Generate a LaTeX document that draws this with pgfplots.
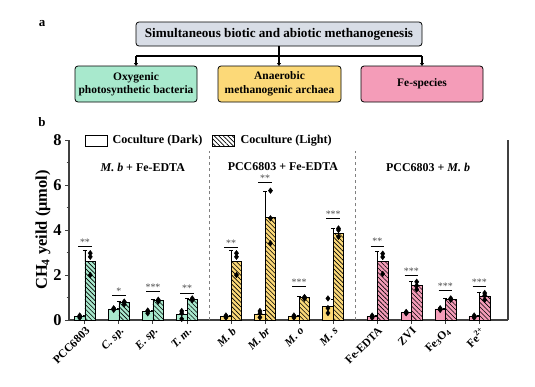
\documentclass[border=0pt]{standalone}
\usepackage{pgfplots}
\pgfplotsset{compat=1.18}
\usepackage{pgfplotstable}
\usepackage{fontspec}
\setmainfont{Liberation Serif}
\usetikzlibrary{patterns.meta,arrows.meta}
\definecolor{cgreen}{HTML}{A8E9CD}
\definecolor{cyellow}{HTML}{FCD978}
\definecolor{cpink}{HTML}{F49CB8}
\definecolor{cgray}{HTML}{D8DDE6}
\definecolor{axgray}{HTML}{404040}

\pgfplotstableread{
x y e
0 0.15 0.05
1 0.49 0.04
2 0.37 0.06
3 0.25 0.18
}\gD
\pgfplotstableread{
x y e
0 2.59 0.52
1 0.77 0.06
2 0.86 0.04
3 0.92 0.04
}\gL
\pgfplotstableread{
x y e
4.3 0.15 0.05
5.3 0.27 0.15
6.3 0.15 0.05
7.3 0.60 0.33
}\yD
\pgfplotstableread{
x y e
4.3 2.59 0.52
5.3 4.56 1.17
6.3 0.99 0.04
7.3 3.85 0.20
}\yL
\pgfplotstableread{
x y e
8.6 0.15 0.05
9.6 0.33 0.03
10.6 0.49 0.04
11.6 0.15 0.05
}\pD
\pgfplotstableread{
x y e
8.6 2.59 0.48
9.6 1.53 0.17
10.6 0.93 0.03
11.6 1.07 0.15
}\pL
\pgfplotstableread{
x y
0 0.10
0 0.15
0 0.20
1 0.45
1 0.50
1 0.52
2 0.30
2 0.38
2 0.42
3 0.05
3 0.30
3 0.40
4.3 0.10
4.3 0.15
4.3 0.20
5.3 0.12
5.3 0.30
5.3 0.40
6.3 0.10
6.3 0.15
6.3 0.20
7.3 0.31
7.3 0.53
7.3 0.96
8.6 0.10
8.6 0.15
8.6 0.20
9.6 0.30
9.6 0.33
9.6 0.36
10.6 0.45
10.6 0.50
10.6 0.52
11.6 0.10
11.6 0.15
11.6 0.20
}\ptsD
\pgfplotstableread{
x y
0 2.00
0 2.81
0 2.97
1 0.70
1 0.78
1 0.82
2 0.82
2 0.86
2 0.90
3 0.88
3 0.92
3 0.96
4.3 2.00
4.3 2.81
4.3 2.97
5.3 3.41
5.3 4.52
5.3 5.75
6.3 0.95
6.3 1.00
6.3 1.02
7.3 3.70
7.3 4.00
7.3 4.07
8.6 2.05
8.6 2.80
8.6 2.95
9.6 1.36
9.6 1.53
9.6 1.70
10.6 0.90
10.6 0.93
10.6 0.96
11.6 0.90
11.6 1.10
11.6 1.20
}\ptsL

\tikzset{hatch/.style={postaction={pattern={Lines[angle=-45,distance=3.2pt,line width=0.6pt]},pattern color=black}}}

\begin{document}
\begin{tikzpicture}[x=1bp,y=1bp]
\useasboundingbox (0,0) rectangle (535,-386);
% panel a
\node[font=\bfseries\fontsize{13}{15}\selectfont] at (42,-24) {a};
\draw[line width=0.8pt, fill=cgray, rounded corners=3bp] (136,-22) rectangle (422,-46);
\node[font=\bfseries\fontsize{13.2}{15}\selectfont] at (279,-34) {Simultaneous biotic and abiotic methanogenesis};
\draw[line width=1.6pt] (279,-46) -- (279,-56);
\draw[line width=1.6pt] (136,-56) -- (422,-56);
\foreach \xx in {136,279,422}{
  \draw[line width=1.6pt,-{Triangle[length=3bp,width=4bp]}] (\xx,-56) -- (\xx,-66);
}
\draw[line width=0.8pt, fill=cgreen, rounded corners=3bp] (75,-66) rectangle (197,-102);
\draw[line width=0.8pt, fill=cyellow, rounded corners=3bp] (218,-66) rectangle (341,-102);
\draw[line width=0.8pt, fill=cpink, rounded corners=3bp] (361,-66) rectangle (483,-102);
\node[font=\bfseries\fontsize{11.5}{13.5}\selectfont, align=center] at (136,-84) {Oxygenic\\photosynthetic bacteria};
\node[font=\bfseries\fontsize{11.5}{13.5}\selectfont, align=center] at (279.5,-84) {Anaerobic\\methanogenic archaea};
\node[font=\bfseries\fontsize{11.5}{13.5}\selectfont, align=center] at (422,-84) {Fe-species};
% panel b
\node[font=\bfseries\fontsize{13}{15}\selectfont] at (42,-122) {b};
% legend
\draw[line width=0.8pt, fill=white] (85,-135) rectangle (107,-146);
\node[font=\bfseries\fontsize{12.2}{14}\selectfont, anchor=west] at (109,-140.5) {Coculture (Dark)};
\draw[line width=0.8pt, fill=white, hatch] (212,-135) rectangle (234,-146);
\node[font=\bfseries\fontsize{12.2}{14}\selectfont, anchor=west] at (237,-140.5) {Coculture (Light)};

\begin{axis}[
  at={(69bp,-320bp)}, anchor=south west, scale only axis,
  width=439bp, height=180bp,
  xmin=-0.47, xmax=12.44, ymin=0, ymax=8,
  axis x line*=bottom, axis y line*=left,
  axis line style={line width=1.1pt, axgray, -},
  every tick/.style={line width=1pt, axgray},
  tick align=outside,
  major tick length=4bp, minor tick length=2.5bp,
  ytick={0,2,4,6,8}, minor ytick={1,3,5,7},
  xtick={0,1,2,3,4.3,5.3,6.3,7.3,8.6,9.6,10.6,11.6},
  xticklabels={PCC6803,\textit{C. sp.},\textit{E. sp.},\textit{T. m.},\textit{M. b},\textit{M. br},\textit{M. o},\textit{M. s},Fe-EDTA,ZVI,Fe\textsubscript{3}O\textsubscript{4},Fe\textsuperscript{2+}},
  x tick label style={rotate=45, anchor=north east, font=\bfseries\fontsize{11.5}{13}\selectfont, inner sep=1.5pt},
  y tick label style={font=\bfseries\fontsize{16.5}{18}\selectfont},
  /pgf/number format/assume math mode=true,
  ylabel={\textbf{CH\textsubscript{4} yeild (μmol)}},
  ylabel style={font=\bfseries\fontsize{16.5}{18}\selectfont, yshift=-4bp},
  clip=false,
  bar width=0.31,
  error bars/y dir=plus, error bars/y explicit,
  error bars/error bar style={line width=0.8pt, black},
  error bars/error mark options={rotate=90, mark size=2bp, line width=0.8pt},
]
\draw[line width=1.1pt, axgray] (rel axis cs:1,0) -- (rel axis cs:1,1);
\draw[gray, dashed, line width=0.6pt] (axis cs:3.65,0) -- (axis cs:3.65,7.5);
\draw[gray, dashed, line width=0.6pt] (axis cs:7.95,0) -- (axis cs:7.95,7.5);

\addplot[ybar, bar shift=-0.155, draw=black, line width=0.6pt, fill=cgreen] table[x=x,y=y,y error=e]{\gD};
\addplot[ybar, bar shift=0.155, draw=black, line width=0.6pt, fill=cgreen, hatch] table[x=x,y=y,y error=e]{\gL};
\addplot[ybar, bar shift=-0.155, draw=black, line width=0.6pt, fill=cyellow] table[x=x,y=y,y error=e]{\yD};
\addplot[ybar, bar shift=0.155, draw=black, line width=0.6pt, fill=cyellow, hatch] table[x=x,y=y,y error=e]{\yL};
\addplot[ybar, bar shift=-0.155, draw=black, line width=0.6pt, fill=cpink] table[x=x,y=y,y error=e]{\pD};
\addplot[ybar, bar shift=0.155, draw=black, line width=0.6pt, fill=cpink, hatch] table[x=x,y=y,y error=e]{\pL};

\addplot[only marks, mark=diamond*, mark size=2.8bp, black] table[x expr=\thisrow{x}-0.155, y=y]{\ptsD};
\addplot[only marks, mark=diamond*, mark size=2.8bp, black] table[x expr=\thisrow{x}+0.155, y=y]{\ptsL};

\foreach \px/\py/\st in {0/3.26/**,1/1.08/*,2/1.26/***,3/1.20/**,4.3/3.23/**,5.3/6.1/**,6.3/1.48/***,7.3/4.52/***,8.6/3.29/**,9.6/1.97/***,10.6/1.30/***,11.6/1.48/***}{
  \edef\tmp{\noexpand\draw[line width=0.8pt, black] (axis cs:\px-0.2,\py) -- (axis cs:\px+0.2,\py);
  \noexpand\node[anchor=south, inner sep=1pt, text=black!70, font=\noexpand\fontsize{10}{11}\noexpand\selectfont] at (axis cs:\px,\py) {\st};}
  \tmp
}

\node[font=\bfseries\fontsize{12}{14}\selectfont] at (axis cs:1.7,6.8) {\textit{M. b} + Fe-EDTA};
\node[font=\bfseries\fontsize{12}{14}\selectfont] at (axis cs:5.82,6.8) {PCC6803 + Fe-EDTA};
\node[font=\bfseries\fontsize{12}{14}\selectfont] at (axis cs:10.09,6.8) {PCC6803 + \textit{M. b}};
\end{axis}
\end{tikzpicture}
\end{document}
